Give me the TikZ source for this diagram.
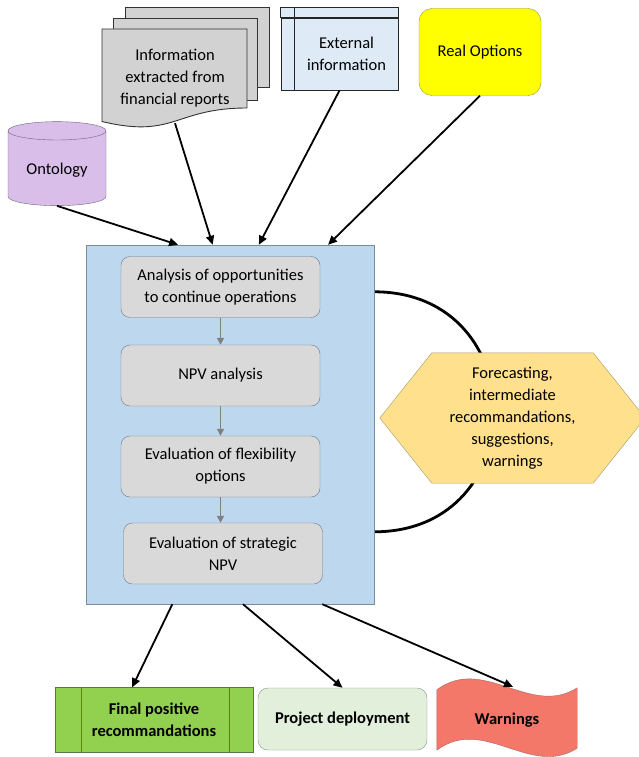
\documentclass[tikz,border=0pt]{standalone}
\usepackage{fontspec}
\setmainfont{Carlito}
\usetikzlibrary{shapes.geometric,arrows.meta,calc,backgrounds}

\definecolor{sheetgray}{RGB}{210,210,210}
\definecolor{extblue}{RGB}{222,235,247}
\definecolor{optyellow}{RGB}{255,255,0}
\definecolor{optline}{RGB}{150,150,60}
\definecolor{ontolilac}{RGB}{216,190,232}
\definecolor{ontoline}{RGB}{110,100,125}
\definecolor{mainblue}{RGB}{189,215,238}
\definecolor{mainline}{RGB}{120,140,160}
\definecolor{stepgray}{RGB}{217,217,217}
\definecolor{stepline}{RGB}{110,120,135}
\definecolor{arrgray}{RGB}{128,128,128}
\definecolor{hexfill}{RGB}{255,224,140}
\definecolor{hexline}{RGB}{165,155,105}
\definecolor{fingreen}{RGB}{146,208,80}
\definecolor{finline}{RGB}{90,120,70}
\definecolor{projgreen}{RGB}{226,239,218}
\definecolor{projline}{RGB}{130,150,140}
\definecolor{warnred}{RGB}{244,120,106}
\definecolor{warnline}{RGB}{165,105,105}

\begin{document}
\begin{tikzpicture}[x=1pt,y=-1pt,
  font=\fontsize{16.5}{22}\selectfont,
  sheet/.style={draw=black!80,fill=sheetgray,line width=0.9pt},
  extline/.style={draw=black!85,fill=extblue,line width=0.9pt},
  stepbox/.style={draw=stepline,fill=stepgray,rounded corners=9pt,minimum width=199pt,minimum height=61pt,align=center},
  feed/.style={draw=black,line width=1.8pt,-{Triangle[length=9pt,width=8pt]}},
  flow/.style={draw=arrgray,line width=1.5pt,-{Triangle[length=7pt,width=7pt]}},
  result/.style={align=center,font=\fontsize{16.5}{22}\selectfont\bfseries}]
\useasboundingbox (0,0) rectangle (638,757);

\filldraw[sheet] (125,7) rectangle (269,87);
\filldraw[sheet] (113,18) rectangle (257,100);
\filldraw[sheet] (102,29) -- (247,29) -- (247,108) .. controls (174.5,108) and (174.5,139) .. (102,121.5) -- cycle;
\node[minimum width=145pt,minimum height=90pt,align=center] (docs) at (175,78) {Information\\extracted from\\financial reports};

\node[extline,minimum width=117pt,minimum height=72pt,align=center] (ext) at (339.5,54)
  {\hspace*{14pt}External\\\hspace*{14pt}information};
\filldraw[extline] ($(ext.north west)+(0,-10)$) rectangle (ext.north east);
\draw[extline] ($(ext.north west)+(14,-10)$) -- ($(ext.south west)+(14,0)$);

\node[draw=optline,fill=optyellow,rounded corners=13pt,minimum width=122pt,minimum height=87pt] (real) at (480,52) {Real Options};

\node[cylinder,shape border rotate=90,aspect=0.27,draw=ontoline,fill=ontolilac,minimum width=98pt,minimum height=84pt] (onto) at (57,170) {Ontology};

\node[draw=mainline,fill=mainblue,minimum width=288pt,minimum height=359pt] (main) at (230,424.5) {};
\node[stepbox] (s1) at (220.5,287) {Analysis of opportunities\\to continue operations};
\node[stepbox] (s2) at (220.5,375.5) {NPV analysis};
\node[stepbox] (s3) at (220.5,466.5) {Evaluation of flexibility\\options};
\node[stepbox] (s4) at (223,553.5) {Evaluation of strategic\\NPV};
\draw[flow] (s1.south) -- (s2.north);
\draw[flow] (s2.south) -- (s3.north);
\draw[flow] (s3.south) -- (s3.south |- s4.north);

\node[minimum width=265pt,minimum height=130pt,align=center] (fc) at (512.5,418)
  {Forecasting,\\intermediate\\recommandations,\\suggestions,\\warnings};
\coordinate (lp1) at ($(main.north east)+(0,47)$);
\coordinate (lp2) at ($(main.north east)+(0,287)$);

\node[result,draw=finline,fill=fingreen,minimum width=198pt,minimum height=65pt] (fin) at (154,720) {Final positive\\recommandations};
\draw[finline] ($(fin.north west)+(26,0)$) -- ($(fin.south west)+(26,0)$);
\draw[finline] ($(fin.north east)+(-24,0)$) -- ($(fin.south east)+(-24,0)$);
\node[result,draw=projline,fill=projgreen,rounded corners=10pt,minimum width=169pt,minimum height=62pt] (proj) at (342.5,719) {Project deployment};
\node[result,minimum width=140pt,minimum height=64pt] (warn) at (507,720) {Warnings};

\begin{scope}[on background layer]
\draw[black,line width=2.8pt] (lp1) .. controls +(160,0) and +(160,0) .. (lp2);
\filldraw[draw=hexline,fill=hexfill] (fc.west) -- ($(fc.north west)+(52,0)$) -- ($(fc.north east)+(-52,0)$)
  -- (fc.east) -- ($(fc.south east)+(-52,0)$) -- ($(fc.south west)+(52,0)$) -- cycle;
\filldraw[draw=warnline,fill=warnred] ($(warn.north west)+(0,2)$) .. controls +(47,-35) and +(-47,30) .. (warn.north east)
  -- ($(warn.south east)+(0,-4)$) .. controls +(-47,30) and +(47,-35) .. ($(warn.south west)+(0,-2)$) -- cycle;
\end{scope}

\draw[feed] (onto.south) -- ($(main.north west)!0.32!(main.north east)$);
\draw[feed] (docs.south) -- ($(main.north west)!0.44!(main.north east)$);
\draw[feed] (ext.south) -- ($(main.north west)!0.6!(main.north east)$);
\draw[feed] (real.south) -- ($(main.north west)!0.84!(main.north east)$);

\draw[feed] ($(main.south west)!0.3!(main.south east)$) -- ($(fin.north west)!0.39!(fin.north east)$);
\draw[feed] ($(main.south west)!0.545!(main.south east)$) -- (proj.north);
\draw[feed] ($(main.south west)!0.82!(main.south east)$) -- ($(warn.north)+(6,-1)$);
\end{tikzpicture}
\end{document}
